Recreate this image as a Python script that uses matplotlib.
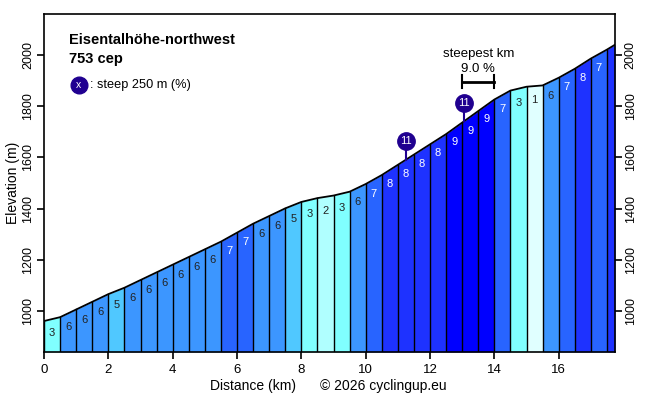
import matplotlib
matplotlib.use("Agg")
import matplotlib.pyplot as plt
import numpy as np

plt.rcParams["font.family"] = ["Liberation Sans", "DejaVu Sans"]

# profile points every 0.5 km (last one is the summit)
dist = [0, 0.5, 1, 1.5, 2, 2.5, 3, 3.5, 4, 4.5, 5, 5.5, 6, 6.5, 7, 7.5, 8, 8.5, 9,
        9.5, 10, 10.5, 11, 11.5, 12, 12.5, 13, 13.5, 14, 14.5, 15, 15.5, 16, 16.5,
        17, 17.5, 17.75]
elev = [961, 976, 1006, 1036, 1066, 1091, 1121, 1151, 1181, 1211, 1241, 1271, 1306,
        1341, 1371, 1401, 1426, 1441, 1451, 1466, 1496, 1531, 1571, 1611, 1651, 1691,
        1736, 1781, 1826, 1861, 1876, 1881, 1911, 1946, 1986, 2021, 2040]
# gradient per segment (%), None = no label
grades = [3, 6, 6, 6, 5, 6, 6, 6, 6, 6, 6, 7, 7, 6, 6, 5, 3, 2, 3, 6, 7, 8, 8, 8, 8,
          9, 9, 9, 7, 3, 1, 6, 7, 8, 7, None]
seg_colors = {1: "#e0ffff", 2: "#b0ffff", 3: "#80ffff", 4: "#68e0ff", 5: "#50c8ff",
              6: "#3c96ff", 7: "#2864ff", 8: "#1e32ff", 9: "#0000ff"}
last_grade = 8

steep_km = [11.25, 13.05]
steep_pct = [11, 11]
steepest_from, steepest_to, steepest_pct = 13, 14, 9.0

title = "Eisentalhöhe-northwest"
subtitle = "753 cep"

fig = plt.figure(figsize=(6.56, 3.99), dpi=100)
ax = fig.add_axes([44 / 656, 47 / 399, 571 / 656, 338 / 399])
ymin, ymax = 840, 2160

for i in range(len(dist) - 1):
    g = grades[i]
    col = seg_colors[g if g is not None else last_grade]
    xs = [dist[i], dist[i + 1]]
    ys = [elev[i], elev[i + 1]]
    ax.fill_between(xs, ymin, ys, color=col, linewidth=0)
    ax.plot([dist[i], dist[i]], [ymin, elev[i]], color="black", lw=1)
    if g is not None:
        xm = (dist[i] + dist[i + 1]) / 2
        ym = (elev[i] + elev[i + 1]) / 2 - 55
        tc = "white" if g >= 7 else "#222222"
        ax.text(xm, ym, str(g), ha="center", va="center", fontsize=8, color=tc)

ax.plot(dist, elev, color="black", lw=1.3)

# steep 250 m markers
for km, p in zip(steep_km, steep_pct):
    e = np.interp(km, dist, elev)
    ax.plot([km, km], [e, e + 45], color="#200090", lw=1.5)
    ax.plot(km, e + 72, "o", ms=12.5, color="#200090")
    ax.text(km, e + 72, str(p), ha="center", va="center", fontsize=8, color="white")

# steepest km bracket
ax.plot([steepest_from, steepest_to], [1895, 1895], color="black", lw=2)
ax.plot([steepest_from, steepest_from], [1870, 1920], color="black", lw=1.5)
ax.plot([steepest_to, steepest_to], [1870, 1920], color="black", lw=1.5)
mid = (steepest_from + steepest_to) / 2
ax.text(mid, 1945, f"{steepest_pct:.1f} %", ha="center", va="center", fontsize=9.5)
ax.text(mid, 2003, "steepest km", ha="center", va="center", fontsize=9.5)

ax.text(0.044, 0.923, title, transform=ax.transAxes, fontsize=10.5, fontweight="bold",
        va="center")
ax.text(0.044, 0.868, subtitle, transform=ax.transAxes, fontsize=10.5, fontweight="bold",
        va="center")
ax.plot(0.061, 0.79, "o", ms=12, color="#200090", transform=ax.transAxes)
ax.text(0.061, 0.79, "x", transform=ax.transAxes, ha="center", va="center",
        fontsize=7.5, color="white")
ax.text(0.081, 0.79, ": steep 250 m (%)", transform=ax.transAxes, va="center",
        fontsize=9.2)

ax.set_xlim(0, 17.75)
ax.set_ylim(ymin, ymax)
ax.set_xticks(range(0, 17, 2))
ax.set_yticks(range(1000, 2001, 200))
ax.tick_params(axis="both", direction="out", length=5, width=1.2, labelsize=9.5,
               right=True, labelright=True)
ax.tick_params(axis="y", pad=2, labelsize=9)
for lab in ax.get_yticklabels():
    lab.set_rotation(90)
    lab.set_va("center")
for s in ax.spines.values():
    s.set_linewidth(1.2)

fig.text(13 / 656, 1 - 183 / 399, "Elevation (m)", rotation=90, ha="center",
         va="center", fontsize=10)
fig.text(253 / 656, 1 - 386 / 399, "Distance (km)", ha="center", va="center", fontsize=10)
fig.text(320 / 656, 1 - 386 / 399, "© 2026 cyclingup.eu", ha="left", va="center",
         fontsize=10)

fig.savefig("out.png", dpi=100)
